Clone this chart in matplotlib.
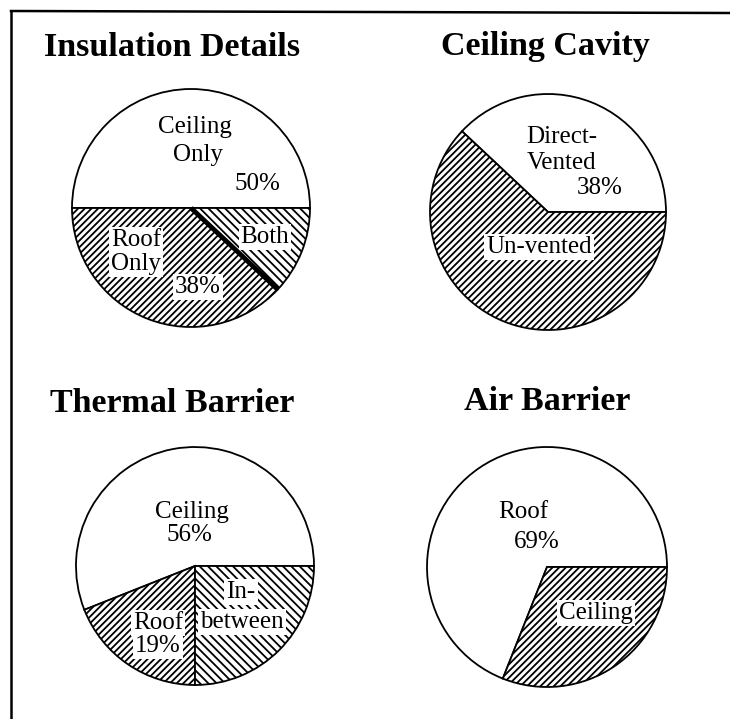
import numpy as np
import matplotlib
matplotlib.use("Agg")
import matplotlib.pyplot as plt
from matplotlib.lines import Line2D

plt.rcParams['font.family'] = ['Liberation Serif', 'DejaVu Serif']
plt.rcParams['hatch.linewidth'] = 1.3

# data
titles = ['Insulation Details', 'Ceiling Cavity', 'Thermal Barrier', 'Air Barrier']
ins_labels = ['Ceiling Only', 'Roof Only', 'Both']
ins_values = [50, 38, 12]
cav_labels = ['Direct-Vented', 'Un-vented']
cav_values = [38, 62]
thm_labels = ['Ceiling', 'Roof', 'In-between']
thm_values = [56, 19, 25]
air_labels = ['Roof', 'Ceiling']
air_values = [69, 31]

W, H = 730, 719
fig = plt.figure(figsize=(7.3, 7.19), dpi=100)
ax = fig.add_axes([0, 0, 1, 1])

FWD = '/////'
BCK = '\\\\\\\\'

def py(y):
    # pixel row (from top) -> data y (from bottom)
    return H - y

def draw_pie(values, hatches, cx, cy, r):
    wedges, _ = ax.pie(values, startangle=0, counterclock=True,
                       center=(cx, py(cy)), radius=r,
                       colors=['white'] * len(values), hatch=hatches,
                       wedgeprops=dict(edgecolor='black', linewidth=1.3))
    return wedges

def lab(x, y, s, box=False, size=18):
    kw = {}
    if box:
        kw['bbox'] = dict(fc='white', ec='none', pad=1.5)
    ax.text(x, py(y), s, ha='center', va='center', fontsize=size, **kw)

# titles
for t, (x, y) in zip(titles, [(172, 47), (545, 47), (172, 404), (547, 402)]):
    ax.text(x, py(y), t, ha='center', va='center', fontsize=24.5, fontweight='bold')

# Insulation details
cx, cy, r = 191, 208, 119
draw_pie(ins_values, ['', FWD, BCK], cx, cy, r)
ang = np.deg2rad(360 * (ins_values[0] + ins_values[1]) / sum(ins_values))
ax.plot([cx, cx + r * np.cos(ang)], [py(cy), py(cy) + r * np.sin(ang)],
        color='black', lw=3.5, solid_capstyle='butt')
lab(195, 127, 'Ceiling')
lab(198, 155, 'Only')
lab(257, 184, '50%')
lab(136, 240, 'Roof', box=True)
lab(136, 264, 'Only', box=True)
lab(198, 287, '38%', box=True)
lab(265, 237, 'Both', box=True)

# Ceiling cavity
draw_pie(cav_values, ['', FWD], 548, 212, 118)
lab(562, 137, 'Direct-')
lab(562, 163, 'Vented')
lab(600, 188, '38%')
lab(539, 247, 'Un-vented', box=True)

# Thermal barrier
draw_pie(thm_values, ['', FWD, BCK], 195, 566, 119)
lab(192, 512, 'Ceiling')
lab(189, 535, '56%')
lab(158, 623, 'Roof', box=True)
lab(158, 646, '19%', box=True)
lab(241, 592, 'In-', box=True)
lab(242, 622, 'between', box=True)

# Air barrier
draw_pie(air_values, ['', FWD], 547, 567, 120)
lab(523, 512, 'Roof')
lab(537, 542, '69%')
lab(596, 613, 'Ceiling', box=True)

ax.set_xlim(0, W)
ax.set_ylim(0, H)
ax.set_aspect('auto')
ax.axis('off')

# frame (left and top edges)
fig.add_artist(Line2D([11 / W, 11 / W], [0, 1 - 11 / H], color='black', lw=1.8))
fig.add_artist(Line2D([11 / W, 1], [1 - 11 / H, 1 - 13 / H], color='black', lw=1.8))

fig.savefig('out.png', dpi=100)
